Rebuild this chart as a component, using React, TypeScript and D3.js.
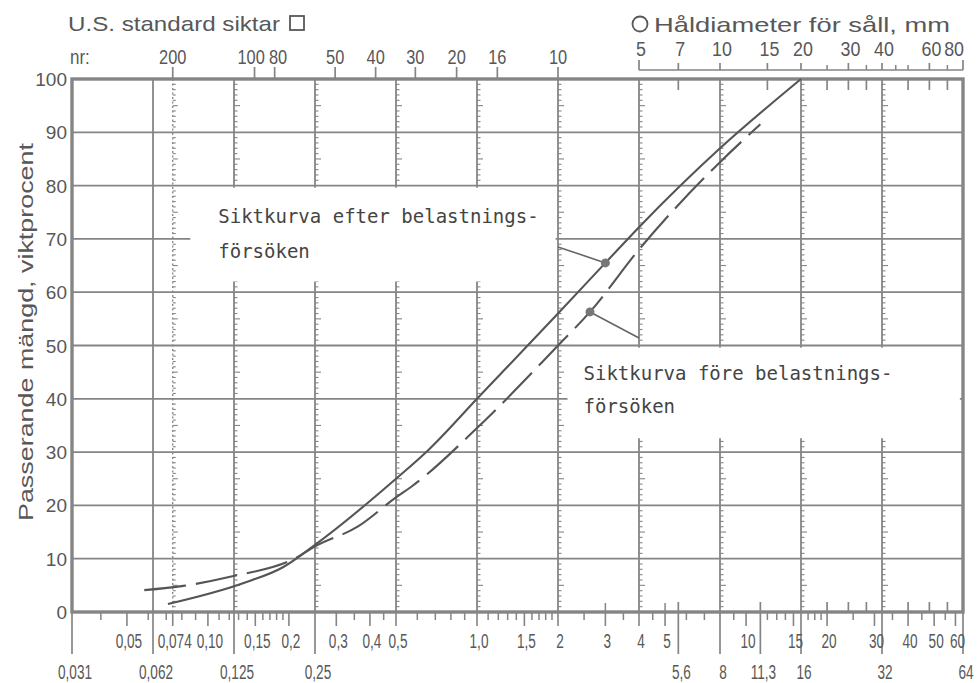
import React from "react";
import * as d3 from "d3";

const WIDTH = 978;
const HEIGHT = 683;

// Grain size (mm) on a log2 axis, passing percentage on a linear axis
const sizeDomain: [number, number] = [1 / 32, 64];
const passingDomain: [number, number] = [0, 100];
const passingTicks = [0, 10, 20, 30, 40, 50, 60, 70, 80, 90, 100];

// Full-height grid lines and the ones carrying 1 % scale marks
const gridSizes = [0.0625, 0.125, 0.25, 0.5, 1, 2, 4, 8, 16, 32];
const scaledGridSizes = [0.125, 0.25, 0.5, 1, 2, 4, 8, 16, 32];
const sieve200Size = 0.074;

// Bottom axis, upper label row
const upperRowValues = [0.05, 0.074, 0.1, 0.15, 0.2, 0.3, 0.4, 0.5, 1, 1.5, 2, 3, 4, 5, 10, 15, 20, 30, 40, 50, 60];
const upperRowLabels = ["0,05", "0,074", "0,10", "0,15", "0,2", "0,3", "0,4", "0,5", "1,0", "1,5", "2", "3", "4", "5", "10", "15", "20", "30", "40", "50", "60"];

// Bottom axis, lower label row (long ticks)
const lowerRowValues = [0.03125, 0.0625, 0.125, 0.25, 5.6, 8, 11.3, 16, 32, 64];
const lowerRowLabels = ["0,031", "0,062", "0,125", "0,25", "5,6", "8", "11,3", "16", "32", "64"];

// Bottom axis, unlabelled minor ticks
const minorTickValues = [
  0.04, 0.06, 0.07, 0.08, 0.09, 0.11, 0.12, 0.13, 0.14, 0.16, 0.17, 0.18, 0.19,
  0.35, 0.45, 0.6, 0.7, 0.8, 0.9, 1.1, 1.2, 1.3, 1.4, 1.6, 1.7, 1.8, 1.9,
  2.5, 3.5, 4.5, 6, 7, 9, 12, 13, 14, 17, 18, 19, 25, 35, 45, 55,
];

// U.S. standard sieves: mesh number and opening (mm)
const sieveNumbers = ["200", "100", "80", "50", "40", "30", "20", "16", "10"];
const sieveOpenings = [0.074, 0.149, 0.177, 0.297, 0.42, 0.59, 0.84, 1.19, 2.0];

// Round-hole screens (mm); equivalent square opening = diameter / 1.25
const roundHoleFactor = 1.25;
const roundHoleLabelled = [5, 7, 10, 15, 20, 30, 40, 60, 80];
const roundHoleMinor = [25, 35, 45, 50, 70];
const roundHoleInnerTicks = [7, 15, 25, 30, 35, 50, 60, 70];
const squareInnerTicks = [3, 5];

// Grading curve after the loading tests (solid)
const efterSizes = [0.071, 0.135, 0.19, 0.25, 0.5, 0.66, 1, 2, 3, 4, 8, 16];
const efterPassing = [1.5, 5.4, 8.4, 12.6, 25, 30.4, 40, 56, 65.5, 72.2, 87, 100];

// Grading curve before the loading tests (dashed)
const foreSizes = [0.058, 0.081, 0.121, 0.215, 0.25, 0.36, 0.5, 0.57, 1, 2, 2.63, 4, 8, 11.3];
const forePassing = [4.1, 4.9, 6.6, 10.3, 12.3, 16, 21.5, 23.5, 34.5, 50, 56.3, 68, 84.4, 91.5];

// Annotation texts
const efterText = ["Siktkurva efter belastnings-", "försöken"];
const foreText = ["Siktkurva före belastnings-", "försöken"];

const SANS = "'Liberation Sans', Arial, sans-serif";
const MONO = "'DejaVu Sans Mono', 'Liberation Mono', monospace";
const INK = "#585858";
const GRID = "#858585";

function Narrow(props: {
  x: number;
  y: number;
  sx: number;
  size: number;
  anchor?: string;
  children: React.ReactNode;
}) {
  const { x, y, sx, size, anchor = "middle", children } = props;
  return (
    <text
      transform={`translate(${x},${y}) scale(${sx},1)`}
      textAnchor={anchor}
      fontSize={size}
      fontFamily={SANS}
      fill={INK}
    >
      {children}
    </text>
  );
}

// Push centred labels apart so that neighbours keep a small gap
function spread(centres: number[], widths: number[], gap: number): number[] {
  const out = centres.slice();
  for (let pass = 0; pass < 6; pass++) {
    for (let i = 1; i < out.length; i++) {
      const need = (widths[i - 1] + widths[i]) / 2 + gap;
      const have = out[i] - out[i - 1];
      if (have < need) {
        const d = (need - have) / 2;
        out[i - 1] -= d;
        out[i] += d;
      }
    }
  }
  return out;
}

export default function App() {
  const left = 72;
  const right = 963;
  const top = 79;
  const bottom = 612;

  const x = d3.scaleLog().base(2).domain(sizeDomain).range([left, right]);
  const y = d3.scaleLinear().domain(passingDomain).range([bottom, top]);
  const rx = (d: number) => x(d / roundHoleFactor);

  const line = d3
    .line<[number, number]>()
    .x((d) => x(d[0]))
    .y((d) => y(d[1]))
    .curve(d3.curveMonotoneX);

  const efterPts = efterSizes.map((s, i) => [s, efterPassing[i]] as [number, number]);
  const forePts = foreSizes.map((s, i) => [s, forePassing[i]] as [number, number]);

  const onePercent = d3.range(1, 100).filter((p) => p % 10 !== 0);

  // cleared areas behind the two captions
  const efterBox = { x0: x(0.086), x1: x(1.96), y0: y(79.6), y1: y(62) };
  const foreBox = { x0: x(2.17), x1: x(62.3), y0: y(49.6), y1: y(32.6) };

  const efterDot: [number, number] = [3, 65.5];
  const efterLeaderStart: [number, number] = [2, 68.5];
  const foreDot: [number, number] = [2.63, 56.3];
  const foreLeaderEnd: [number, number] = [4, 51.4];

  const sieveX = spread(
    sieveOpenings.map((s) => x(s)),
    sieveNumbers.map((n) => n.length * 9.2),
    4
  );

  return (
    <svg
      width={WIDTH}
      height={HEIGHT}
      viewBox={`0 0 ${WIDTH} ${HEIGHT}`}
      style={{ position: "absolute", left: 0, top: 0, background: "#fff" }}
    >
      <rect width={WIDTH} height={HEIGHT} fill="#fff" />

      {/* horizontal grid */}
      {passingTicks.slice(1, -1).map((p) => (
        <line key={`h${p}`} x1={left} x2={right} y1={y(p)} y2={y(p)} stroke={GRID} strokeWidth={1.8} />
      ))}

      {/* vertical grid */}
      {gridSizes.map((s) => (
        <line key={`v${s}`} x1={x(s)} x2={x(s)} y1={top} y2={bottom} stroke={GRID} strokeWidth={1.8} />
      ))}

      {/* 1 % scale marks along the grid lines */}
      {scaledGridSizes.map((s) =>
        onePercent.map((p) => (
          <line
            key={`c${s}-${p}`}
            x1={x(s)}
            x2={x(s) + (p % 5 === 0 ? 6 : 3.5)}
            y1={y(p)}
            y2={y(p)}
            stroke={GRID}
            strokeWidth={1.1}
          />
        ))
      )}

      {/* No. 200 sieve line, drawn as a dotted scale */}
      <line
        x1={x(sieve200Size)}
        x2={x(sieve200Size)}
        y1={top}
        y2={bottom}
        stroke={GRID}
        strokeWidth={1.3}
        strokeDasharray="2 2.5"
      />
      {onePercent.map((p) => (
        <line
          key={`s200-${p}`}
          x1={x(sieve200Size)}
          x2={x(sieve200Size) + (p % 5 === 0 ? 5 : 3)}
          y1={y(p)}
          y2={y(p)}
          stroke={GRID}
          strokeWidth={1.1}
        />
      ))}

      {/* caption backgrounds */}
      <rect x={efterBox.x0} y={efterBox.y0} width={efterBox.x1 - efterBox.x0} height={efterBox.y1 - efterBox.y0} fill="#fff" />
      <rect x={foreBox.x0} y={foreBox.y0} width={foreBox.x1 - foreBox.x0} height={foreBox.y1 - foreBox.y0} fill="#fff" />

      {/* inner ticks along the top and bottom frame */}
      {roundHoleInnerTicks.map((v) => (
        <line key={`it${v}`} x1={rx(v)} x2={rx(v)} y1={top} y2={top + 11} stroke={GRID} strokeWidth={1.7} />
      ))}
      {roundHoleInnerTicks.slice(2).map((v) => (
        <line key={`ib${v}`} x1={rx(v)} x2={rx(v)} y1={bottom} y2={bottom - 10} stroke={GRID} strokeWidth={1.7} />
      ))}
      {squareInnerTicks.map((v) => (
        <line key={`is${v}`} x1={x(v)} x2={x(v)} y1={bottom} y2={bottom - 9} stroke={GRID} strokeWidth={1.5} />
      ))}

      {/* frame */}
      <rect x={left} y={top} width={right - left} height={bottom - top} fill="none" stroke="#858585" strokeWidth={3.4} />

      {/* y labels */}
      {passingTicks.map((p) => (
        <text key={`yl${p}`} x={67} y={y(p) + 7} textAnchor="end" fontSize={19} fontFamily={SANS} fill={INK}>
          {p}
        </text>
      ))}
      <text
        transform={`translate(33,332) rotate(-90)`}
        textAnchor="middle"
        fontSize={21}
        fontFamily={SANS}
        fill={INK}
        textLength={378}
        lengthAdjust="spacingAndGlyphs"
      >
        Passerande mängd, viktprocent
      </text>

      {/* bottom axis ticks */}
      {minorTickValues.map((v) => (
        <line key={`mt${v}`} x1={x(v)} x2={x(v)} y1={bottom} y2={bottom + 8} stroke={GRID} strokeWidth={1.5} />
      ))}
      {upperRowValues.map((v) => (
        <line key={`ut${v}`} x1={x(v)} x2={x(v)} y1={bottom} y2={bottom + 14} stroke={GRID} strokeWidth={1.6} />
      ))}
      {lowerRowValues.map((v) => {
        const onGrid = gridSizes.includes(v) || v === sizeDomain[0] || v === sizeDomain[1];
        return (
          <line
            key={`lt${v}`}
            x1={x(v)}
            x2={x(v)}
            y1={onGrid ? bottom : bottom - 10}
            y2={bottom + 42}
            stroke={GRID}
            strokeWidth={1.7}
          />
        );
      })}
      {upperRowValues.map((v, i) => (
        <Narrow key={`ul${v}`} x={x(v) + 2} y={648} sx={0.68} size={20}>
          {upperRowLabels[i]}
        </Narrow>
      ))}
      {lowerRowValues.map((v, i) => (
        <Narrow key={`ll${v}`} x={x(v) + 3} y={679} sx={0.68} size={20}>
          {lowerRowLabels[i]}
        </Narrow>
      ))}

      {/* top left: U.S. standard sieves */}
      <text x={68} y={31} fontSize={21} fontFamily={SANS} fill={INK} textLength={212} lengthAdjust="spacingAndGlyphs">
        U.S. standard siktar
      </text>
      <rect x={290} y={16} width={14} height={14} fill="none" stroke={INK} strokeWidth={1.8} />
      <Narrow x={70} y={64} sx={0.85} size={20} anchor="start">
        nr:
      </Narrow>
      {sieveOpenings.map((s, i) => (
        <g key={`sv${sieveNumbers[i]}`}>
          <line x1={x(s)} x2={x(s)} y1={top} y2={top - 12} stroke={GRID} strokeWidth={1.7} />
          <Narrow x={sieveX[i]} y={64} sx={0.78} size={21}>
            {sieveNumbers[i]}
          </Narrow>
        </g>
      ))}

      {/* top right: round-hole screens */}
      <circle cx={640} cy={24} r={7.5} fill="none" stroke={INK} strokeWidth={1.8} />
      <text x={654} y={32} fontSize={21} fontFamily={SANS} fill={INK} textLength={296} lengthAdjust="spacingAndGlyphs">
        Håldiameter för såll, mm
      </text>
      <line x1={rx(5)} x2={rx(80)} y1={70} y2={70} stroke={GRID} strokeWidth={1.7} />
      {roundHoleLabelled.map((v, i) => {
        const last = i === roundHoleLabelled.length - 1;
        const end = i === 0 || last;
        return (
          <g key={`rh${v}`}>
            <line x1={rx(v)} x2={rx(v)} y1={70} y2={end ? 60 : 63} stroke={GRID} strokeWidth={1.7} />
            <Narrow x={last ? rx(v) + 1 : rx(v) + 2} y={56} sx={0.85} size={21} anchor={last ? "end" : "middle"}>
              {v}
            </Narrow>
          </g>
        );
      })}
      {roundHoleMinor.map((v) => (
        <line key={`rm${v}`} x1={rx(v)} x2={rx(v)} y1={70} y2={65} stroke={GRID} strokeWidth={1.5} />
      ))}

      {/* grading curves */}
      <path d={line(forePts) ?? ""} fill="none" stroke="#555" strokeWidth={2.1} strokeDasharray="42 10" />
      <path d={line(efterPts) ?? ""} fill="none" stroke="#555" strokeWidth={2.1} />

      {/* leaders */}
      <line x1={x(efterLeaderStart[0])} y1={y(efterLeaderStart[1])} x2={x(efterDot[0])} y2={y(efterDot[1])} stroke="#666" strokeWidth={1.6} />
      <circle cx={x(efterDot[0])} cy={y(efterDot[1])} r={4.5} fill="#777" />
      <line x1={x(foreDot[0])} y1={y(foreDot[1])} x2={x(foreLeaderEnd[0])} y2={y(foreLeaderEnd[1])} stroke="#666" strokeWidth={1.6} />
      <circle cx={x(foreDot[0])} cy={y(foreDot[1])} r={4.5} fill="#777" />

      {/* captions */}
      {efterText.map((t, i) => (
        <text key={`et${i}`} x={efterBox.x0 + 28} y={223 + i * 35} fontSize={19} fontFamily={MONO} fill="#444">
          {t}
        </text>
      ))}
      {foreText.map((t, i) => (
        <text key={`ft${i}`} x={foreBox.x0 + 16} y={380 + i * 33} fontSize={19} fontFamily={MONO} fill="#444">
          {t}
        </text>
      ))}
    </svg>
  );
}
